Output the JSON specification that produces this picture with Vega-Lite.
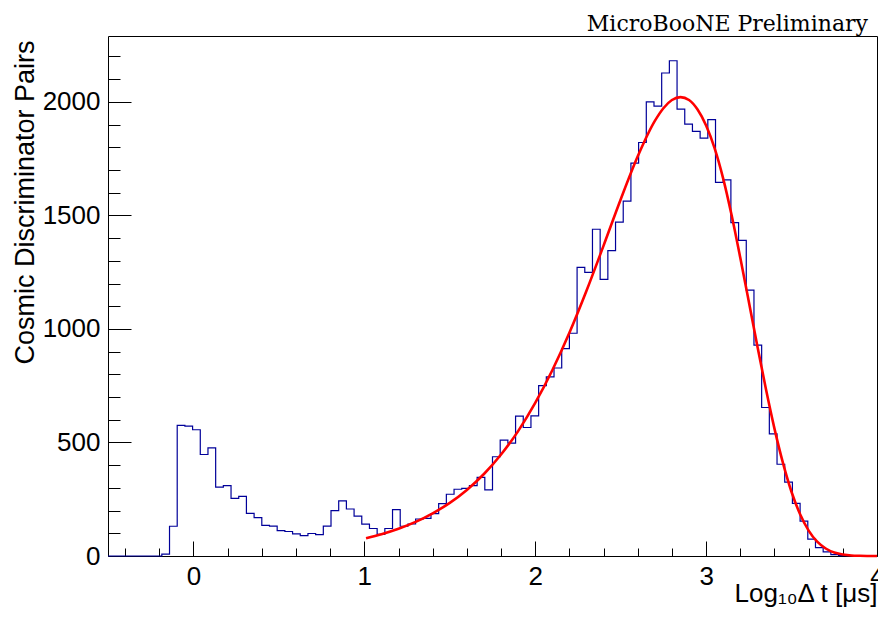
{
  "$schema": "https://vega.github.io/schema/vega-lite/v6.json",
  "width": 769,
  "height": 520,
  "autosize": {"type": "none"},
  "padding": {"left": 108, "top": 36, "right": 1, "bottom": 65},
  "background": "white",
  "title": {"text": "MicroBooNE Preliminary", "anchor": "end", "frame": "group", "font": "DejaVu Serif", "fontSize": 22, "fontWeight": "normal", "color": "black", "baseline": "alphabetic", "offset": -17, "dx": -9},
  "config": {
    "view": {"stroke": "black", "strokeWidth": 1},
    "axis": {"grid": false, "domain": false, "labelFont": "Liberation Sans", "titleFont": "Liberation Sans", "labelColor": "black", "titleColor": "black", "tickColor": "black", "tickWidth": 1, "titleFontWeight": "normal"}
  },
  "datasets": {
    "hist": [
      {"lo": -0.5, "n": 0}, {"lo": -0.455, "n": 0}, {"lo": -0.41, "n": 0}, {"lo": -0.365, "n": 0}, {"lo": -0.32, "n": 0},
      {"lo": -0.275, "n": 0}, {"lo": -0.23, "n": 0}, {"lo": -0.185, "n": 8}, {"lo": -0.14, "n": 131}, {"lo": -0.095, "n": 575},
      {"lo": -0.05, "n": 572}, {"lo": -0.005, "n": 556}, {"lo": 0.04, "n": 447}, {"lo": 0.085, "n": 476}, {"lo": 0.13, "n": 303},
      {"lo": 0.175, "n": 310}, {"lo": 0.22, "n": 254}, {"lo": 0.265, "n": 263}, {"lo": 0.31, "n": 188}, {"lo": 0.355, "n": 169},
      {"lo": 0.4, "n": 135}, {"lo": 0.445, "n": 132}, {"lo": 0.49, "n": 112}, {"lo": 0.535, "n": 108}, {"lo": 0.58, "n": 97},
      {"lo": 0.625, "n": 90}, {"lo": 0.67, "n": 99}, {"lo": 0.715, "n": 94}, {"lo": 0.76, "n": 132}, {"lo": 0.805, "n": 200},
      {"lo": 0.85, "n": 243}, {"lo": 0.895, "n": 207}, {"lo": 0.94, "n": 176}, {"lo": 0.985, "n": 140}, {"lo": 1.03, "n": 121},
      {"lo": 1.075, "n": 95}, {"lo": 1.12, "n": 121}, {"lo": 1.165, "n": 204}, {"lo": 1.21, "n": 131}, {"lo": 1.255, "n": 141},
      {"lo": 1.3, "n": 163}, {"lo": 1.345, "n": 166}, {"lo": 1.39, "n": 187}, {"lo": 1.435, "n": 231}, {"lo": 1.48, "n": 272},
      {"lo": 1.525, "n": 294}, {"lo": 1.57, "n": 298}, {"lo": 1.615, "n": 310}, {"lo": 1.66, "n": 346}, {"lo": 1.705, "n": 291},
      {"lo": 1.75, "n": 437}, {"lo": 1.795, "n": 510}, {"lo": 1.84, "n": 497}, {"lo": 1.885, "n": 616}, {"lo": 1.93, "n": 566},
      {"lo": 1.975, "n": 617}, {"lo": 2.02, "n": 750}, {"lo": 2.065, "n": 789}, {"lo": 2.11, "n": 828}, {"lo": 2.155, "n": 913},
      {"lo": 2.2, "n": 981}, {"lo": 2.245, "n": 1271}, {"lo": 2.29, "n": 1249}, {"lo": 2.335, "n": 1439}, {"lo": 2.38, "n": 1218},
      {"lo": 2.425, "n": 1345}, {"lo": 2.47, "n": 1470}, {"lo": 2.515, "n": 1563}, {"lo": 2.56, "n": 1730}, {"lo": 2.605, "n": 1821},
      {"lo": 2.65, "n": 2000}, {"lo": 2.695, "n": 1981}, {"lo": 2.74, "n": 2127}, {"lo": 2.785, "n": 2181}, {"lo": 2.83, "n": 1968},
      {"lo": 2.875, "n": 1902}, {"lo": 2.92, "n": 1870}, {"lo": 2.965, "n": 1840}, {"lo": 3.01, "n": 1922}, {"lo": 3.055, "n": 1645},
      {"lo": 3.1, "n": 1656}, {"lo": 3.145, "n": 1468}, {"lo": 3.19, "n": 1390}, {"lo": 3.235, "n": 1171}, {"lo": 3.28, "n": 929},
      {"lo": 3.325, "n": 654}, {"lo": 3.37, "n": 538}, {"lo": 3.415, "n": 404}, {"lo": 3.46, "n": 325}, {"lo": 3.505, "n": 232},
      {"lo": 3.55, "n": 154}, {"lo": 3.595, "n": 74}, {"lo": 3.64, "n": 37}, {"lo": 3.685, "n": 18}, {"lo": 3.73, "n": 6},
      {"lo": 3.775, "n": 2}, {"lo": 3.82, "n": 1}, {"lo": 3.865, "n": 0}, {"lo": 3.91, "n": 0}, {"lo": 3.955, "n": 0},
      {"lo": 4.0, "n": 0}
    ],
    "fit": [
      {"x": 1.01, "y": 78}, {"x": 1.1, "y": 96}, {"x": 1.2, "y": 120}, {"x": 1.3, "y": 150}, {"x": 1.4, "y": 188},
      {"x": 1.5, "y": 234}, {"x": 1.6, "y": 291}, {"x": 1.7, "y": 361}, {"x": 1.8, "y": 447}, {"x": 1.9, "y": 550},
      {"x": 2.0, "y": 674}, {"x": 2.1, "y": 818}, {"x": 2.2, "y": 983}, {"x": 2.3, "y": 1168}, {"x": 2.4, "y": 1367},
      {"x": 2.5, "y": 1570}, {"x": 2.6, "y": 1760}, {"x": 2.7, "y": 1916}, {"x": 2.75, "y": 1972}, {"x": 2.8, "y": 2008},
      {"x": 2.85, "y": 2021}, {"x": 2.9, "y": 2008}, {"x": 2.95, "y": 1966}, {"x": 3.0, "y": 1896}, {"x": 3.05, "y": 1795},
      {"x": 3.1, "y": 1662}, {"x": 3.15, "y": 1498}, {"x": 3.2, "y": 1313}, {"x": 3.25, "y": 1120}, {"x": 3.3, "y": 924},
      {"x": 3.35, "y": 735}, {"x": 3.4, "y": 561}, {"x": 3.45, "y": 409}, {"x": 3.5, "y": 282}, {"x": 3.55, "y": 184},
      {"x": 3.6, "y": 112}, {"x": 3.65, "y": 63}, {"x": 3.7, "y": 33}, {"x": 3.75, "y": 15}, {"x": 3.8, "y": 7},
      {"x": 3.85, "y": 2.5}, {"x": 3.9, "y": 1}, {"x": 4.0, "y": 0}
    ]
  },
  "layer": [
    {
      "data": {"name": "hist"},
      "mark": {"type": "line", "interpolate": "step-after", "stroke": "#000099", "strokeWidth": 1.2},
      "encoding": {
        "x": {"field": "lo", "type": "quantitative", "scale": {"domain": [-0.5, 4], "nice": false, "zero": false},
          "axis": {"orient": "bottom", "ticks": false, "tickSize": 0, "values": [0, 1, 2, 3, 4], "format": "d", "labelFontSize": 26, "labelPadding": 7, "labelFlush": false, "labelOverlap": false, "labelBound": false,
            "title": "Log₁₀Δ t [μs]", "titleFontSize": 26, "titleX": 769, "titleY": 45, "titleAlign": "right", "titleBaseline": "alphabetic", "titleAnchor": "end"}},
        "y": {"field": "n", "type": "quantitative", "scale": {"domain": [0, 2290], "nice": false, "zero": true},
          "axis": {"orient": "left", "ticks": false, "tickSize": 0, "values": [0, 500, 1000, 1500, 2000], "format": "d", "labelFontSize": 26, "labelPadding": 8, "labelFlush": false, "labelOverlap": false,
            "title": "Cosmic Discriminator Pairs", "titleFontSize": 27, "titleX": -75, "titleY": 4, "titleAngle": 270, "titleAlign": "right", "titleBaseline": "alphabetic", "titleAnchor": "end"}}
      }
    },
    {
      "data": {"name": "fit"},
      "mark": {"type": "line", "interpolate": "monotone", "stroke": "#ff0000", "strokeWidth": 2.6},
      "encoding": {
        "x": {"field": "x", "type": "quantitative", "scale": {"domain": [-0.5, 4], "nice": false, "zero": false},
          "axis": {"orient": "bottom", "offset": -15, "tickSize": 15, "labels": false, "title": null, "values": [0, 1, 2, 3, 4]}},
        "y": {"field": "y", "type": "quantitative", "scale": {"domain": [0, 2290], "nice": false, "zero": true},
          "axis": {"orient": "left", "offset": -23, "tickSize": 23, "labels": false, "title": null, "values": [0, 500, 1000, 1500, 2000]}}
      }
    },
    {
      "data": {"name": "fit"},
      "mark": {"type": "line", "strokeOpacity": 0},
      "encoding": {
        "x": {"field": "x", "type": "quantitative", "scale": {"domain": [-0.5, 4], "nice": false, "zero": false},
          "axis": {"orient": "bottom", "offset": -8, "tickSize": 8, "labels": false, "title": null, "values": [-0.4, -0.2, 0.2, 0.4, 0.6, 0.8, 1.2, 1.4, 1.6, 1.8, 2.2, 2.4, 2.6, 2.8, 3.2, 3.4, 3.6, 3.8]}},
        "y": {"field": "y", "type": "quantitative", "scale": {"domain": [0, 2290], "nice": false, "zero": true},
          "axis": {"orient": "left", "offset": -12, "tickSize": 12, "labels": false, "title": null, "values": [100, 200, 300, 400, 600, 700, 800, 900, 1100, 1200, 1300, 1400, 1600, 1700, 1800, 1900, 2100, 2200]}}
      }
    }
  ],
  "resolve": {"axis": {"x": "independent", "y": "independent"}}
}
